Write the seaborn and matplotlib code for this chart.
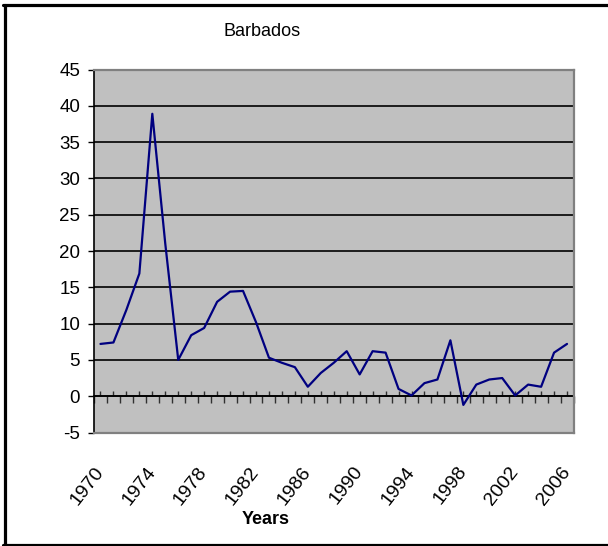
import matplotlib
matplotlib.use("Agg")
import matplotlib.pyplot as plt
from matplotlib.lines import Line2D
import numpy as np
import pandas as pd
import seaborn as sns

# Annual inflation, Barbados (%)
years = list(range(1970, 2007))
inflation = [7.2, 7.4, 11.9, 16.9, 38.9, 21.0, 5.0, 8.4, 9.4, 13.0,
             14.4, 14.5, 10.2, 5.3, 4.6, 4.0, 1.3, 3.2, 4.6, 6.2,
             3.0, 6.2, 6.0, 1.0, 0.1, 1.8, 2.3, 7.7, -1.2, 1.6,
             2.3, 2.5, 0.1, 1.6, 1.3, 6.0, 7.2]
label_years = [1970, 1974, 1978, 1982, 1986, 1990, 1994, 1998, 2002, 2006]
y_ticks = [-5, 0, 5, 10, 15, 20, 25, 30, 35, 40, 45]

df = pd.DataFrame({"Year": years, "Inflation": inflation})

sns.set_style("white")
plt.rcParams["font.family"] = ["Liberation Sans", "DejaVu Sans"]
plt.rcParams["text.color"] = "black"
plt.rcParams["xtick.color"] = "black"
plt.rcParams["ytick.color"] = "black"

W, H = 608, 546
fig = plt.figure(figsize=(W / 100, H / 100), dpi=100)
L, T, R, B = 94, 69.5, 573.5, 432.5
ax = fig.add_axes([L / W, 1 - B / H, (R - L) / W, (B - T) / H])
ax.set_facecolor("#C0C0C0")

sns.lineplot(data=df, x="Year", y="Inflation", color="#000080",
             linewidth=1.6, ax=ax, zorder=3)

ax.set_xlim(years[0] - 0.5, years[-1] + 0.5)
ax.set_ylim(-5, 45)
ax.set_yticks(y_ticks)
ax.set_yticklabels([str(v) for v in y_ticks], fontsize=13.5)
ax.tick_params(axis="y", direction="out", length=4, width=1, color="black",
               labelcolor="black", pad=6, left=True)

# horizontal gridlines (inner ones only)
ax.yaxis.grid(True, color="black", linewidth=1.2)
ax.xaxis.grid(False)
ax.set_axisbelow(True)
grid = ax.get_ygridlines()
grid[0].set_visible(False)
grid[-1].set_visible(False)

for side in ["top", "right", "bottom"]:
    ax.spines[side].set_color("#808080")
    ax.spines[side].set_linewidth(1.6)
ax.spines["left"].set_color("black")
ax.spines["left"].set_linewidth(1.2)

# year labels along the bottom of the plot area
ax.set_xticks(label_years)
ax.set_xticklabels([str(y) for y in label_years], fontsize=14,
                   rotation=52, rotation_mode="anchor", ha="right", va="center")
ax.tick_params(axis="x", length=0, pad=26, labelcolor="black")
ax.set_xlabel("")
ax.set_ylabel("")

# category axis crossing at zero
zero_axis = ax.secondary_xaxis(location=0.1)
zero_axis.spines["bottom"].set_color("black")
zero_axis.spines["bottom"].set_linewidth(1.2)
zero_axis.set_xticks(years)
zero_axis.set_xticks(np.arange(years[0] - 0.5, years[-1] + 1, 1.0), minor=True)
zero_axis.tick_params(axis="x", which="major", direction="in", length=3.5,
                      width=1, color="#303030", labelbottom=False)
zero_axis.tick_params(axis="x", which="minor", direction="out", length=5,
                      width=1, color="#303030", labelbottom=False)

fig.text(262 / W, 1 - 32 / H, "Barbados", ha="center", va="center",
         fontsize=13, color="black")
fig.text(265.5 / W, 1 - 519 / H, "Years", ha="center", va="center",
         fontsize=13, fontweight="bold", color="black")

# chart frame
fig.add_artist(Line2D([4.5 / W, 4.5 / W], [1 - 4.5 / H, 1 - 544.5 / H],
                      transform=fig.transFigure, color="black", linewidth=2.3))
fig.add_artist(Line2D([3 / W, 1], [1 - 4.5 / H, 1 - 4.5 / H],
                      transform=fig.transFigure, color="black", linewidth=2.3))
fig.add_artist(Line2D([3 / W, 1], [1 - 544.5 / H, 1 - 544.5 / H],
                      transform=fig.transFigure, color="black", linewidth=2.3))

fig.savefig("out.png", dpi=100)
